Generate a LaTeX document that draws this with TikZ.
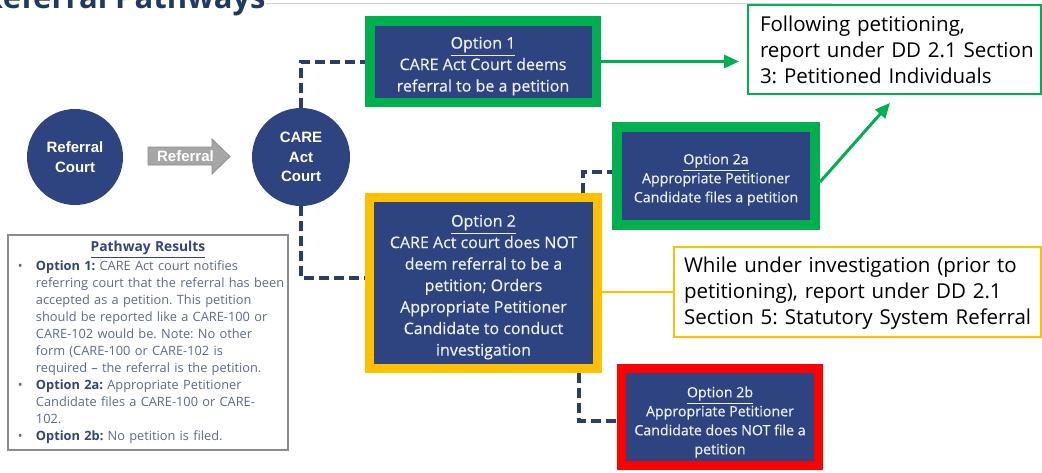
\documentclass[tikz,border=0pt]{standalone}
\usepackage{fontspec}
\setmainfont{Open Sans}
\newfontfamily\arialfont{Liberation Sans}
\newfontface\boxfont[FakeBold=0.4]{Open Sans}
\usetikzlibrary{arrows.meta,calc}
\setlength{\parindent}{0pt}
\frenchspacing

\definecolor{navy}{RGB}{46,68,128}
\definecolor{dashnavy}{RGB}{44,60,110}
\definecolor{titlenavy}{RGB}{31,56,100}
\definecolor{okgreen}{RGB}{0,176,80}
\definecolor{warnyellow}{RGB}{255,192,0}
\definecolor{stopred}{RGB}{255,0,0}
\definecolor{boxtext}{RGB}{238,240,246}
\definecolor{resulttext}{RGB}{92,106,140}
\definecolor{resultbold}{RGB}{52,69,122}
\definecolor{arrowgray}{RGB}{166,166,166}

% lines of the results legend
\newcommand\resbul[2]{\mbox{\makebox[9pt][l]{\textbullet}{\bfseries\color{resultbold}#1} #2}\par}
\newcommand\resline[1]{\mbox{\hspace*{9pt}#1}\par}
% invisible strut that lowers the text block of a box
\newcommand\topgap[1]{\rule{0pt}{#1}}

\begin{document}
\begin{tikzpicture}[x=0.5pt,y=-0.5pt,
  court/.style={circle, fill=navy, inner sep=0, text=white, align=center,
    font=\arialfont\bfseries\fontsize{7.5}{9.75}\selectfont},
  optbox/.style={rectangle, fill=navy, text=boxtext, align=center, inner sep=0},
  bigtext/.style={font=\boxfont\fontsize{8}{10.75}\selectfont},
  smalltext/.style={font=\boxfont\fontsize{7.1}{9.5}\selectfont},
  dashline/.style={draw=dashnavy, line width=2pt, dash pattern=on 5pt off 2.5pt},
  gline/.style={draw=okgreen, line width=1.5pt, -{Triangle[length=7.5pt,width=6.5pt]}},
  yline/.style={draw=warnyellow, line width=1.25pt},
  note/.style={rectangle, fill=white, line width=0.9pt, align=left, text=black,
    inner ysep=0, font=\fontsize{10.25}{13}\selectfont}
]
\useasboundingbox (0,0) rectangle (1042,472);
\clip (0,0) rectangle (1042,472);

% heading and rule
\node[anchor=base east, inner sep=0, text=titlenavy,
  font=\bfseries\fontsize{15.5}{18}\selectfont] (title) at (266,8) {Referral Pathways};
\draw[black!18, line width=0.6pt] (title.east |- 0,3.5) -- (832,3.5);

% courts
\node[court, minimum size=48pt] (refcourt) at (75,157) {Referral\\Court};
\node[court, minimum size=49pt] (care) at (301,157) {CARE\\Act\\Court};

% referral block arrow
\filldraw[fill=arrowgray, draw=black!45, line width=0.4pt]
  (148,147) -- (212,147) -- (212,139) -- (230,156.5) -- (212,174) -- (212,165) -- (148,165) -- cycle;
\node[inner sep=0, text=white, font=\arialfont\bfseries\fontsize{7.5}{9}\selectfont]
  (reflbl) at (185.5,156.5) {Referral};

% options
\node[optbox, bigtext, draw=okgreen, line width=4.75pt,
  minimum width=113.25pt, minimum height=40.75pt] (opt1) at (483,61.5)
  {\topgap{10.5pt}\underline{Option 1}\\CARE Act Court deems\\referral to be a petition};
\node[optbox, bigtext, draw=warnyellow, line width=4.5pt,
  minimum width=114pt, minimum height=85.5pt] (opt2) at (483.5,283)
  {\topgap{10pt}\underline{Option 2}\\CARE Act court does NOT\\deem referral to be a\\petition; Orders\\Appropriate Petitioner\\Candidate to conduct\\investigation};
\node[optbox, smalltext, draw=okgreen, line width=5pt,
  minimum width=99pt, minimum height=49pt] (opt2a) at (716,176)
  {\topgap{9pt}\underline{Option 2a}\\Appropriate Petitioner\\Candidate files a petition};
\node[optbox, smalltext, draw=stopred, line width=4.5pt,
  minimum width=98.5pt, minimum height=48.5pt] (opt2b) at (720,417)
  {\topgap{10.5pt}\underline{Option 2b}\\Appropriate Petitioner\\Candidate does NOT file a\\petition};

% reporting notes
\node[note, draw=okgreen, minimum height=44.5pt, inner xsep=6pt, text width=134.5pt]
  (note1) at (894.5,49.5)
  {\mbox{Following petitioning,}\\\mbox{report under DD 2.1 Section}\\\mbox{3: Petitioned Individuals}};
\node[note, draw=warnyellow, minimum height=45pt, inner xsep=5pt, text width=173.5pt]
  (note2) at (857.5,292)
  {\topgap{9pt}\mbox{While under investigation (prior to}\\\mbox{petitioning), report under DD 2.1}\\\mbox{Section 5: Statutory System Referral}};

% results legend
\node[rectangle, draw=black!45, line width=0.6pt, fill=white, inner xsep=5pt, inner ysep=0,
  text width=130pt, minimum height=107.5pt, text=resulttext,
  font=\fontsize{6.4}{8.5}\selectfont] (results) at (148,342.5)
  {{\centering\fontsize{6.9}{9.5}\selectfont\bfseries\color{resultbold}\underline{Pathway Results}\par}
   \resbul{Option 1:}{CARE Act court notifies}
   \resline{referring court that the referral has been}
   \resline{accepted as a petition. This petition}
   \resline{should be reported like a CARE-100 or}
   \resline{CARE-102 would be. Note: No other}
   \resline{form (CARE-100 or CARE-102 is}
   \resline{required -- the referral is the petition.}
   \resbul{Option 2a:}{Appropriate Petitioner}
   \resline{Candidate files a CARE-100 or CARE-}
   \resline{102.}
   \resbul{Option 2b:}{No petition is filed.}};

% decision connectors
\draw[dashline] (care.north) |- (opt1.west);
\draw[dashline] (care.south) |- ([yshift=2.5pt]opt2.west);
\draw[dashline] ([xshift=49.75pt]opt2.north) |- ([yshift=2pt]opt2a.west);
\draw[dashline] ([xshift=47.75pt]opt2.south) |- ([yshift=-2pt]opt2b.west);

% reporting connectors
\draw[gline] (opt1.east) -- ($(note1.west |- opt1.east)+(-8,0)$);
\draw[gline] ([yshift=-3pt]opt2a.east) -- ($(note1.south)+(-4.5,8)$);
\draw[yline] (note2.west) -- (note2.west -| opt2.east);
\end{tikzpicture}
\end{document}
